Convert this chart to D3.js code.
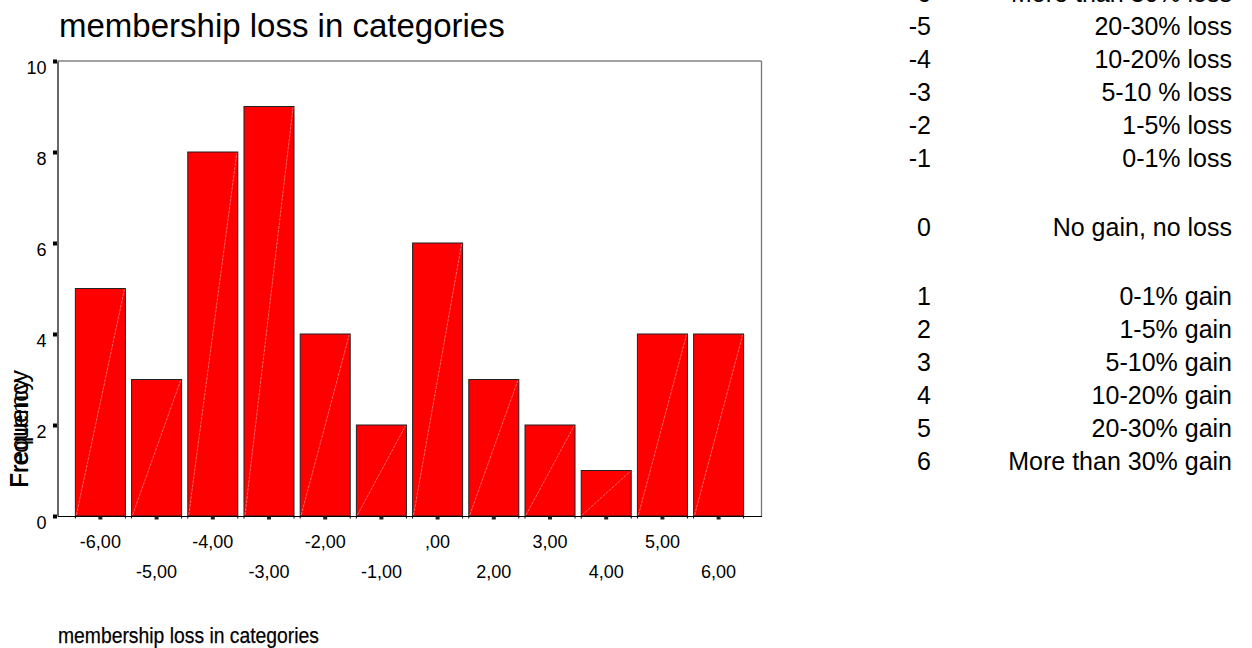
<!DOCTYPE html>
<html>
<head>
<meta charset="utf-8">
<script src="https://cdn.jsdelivr.net/npm/d3@7"></script>
<style>
  html, body { margin: 0; padding: 0; background: #fff; }
  svg { display: block; font-family: "Liberation Sans", Arial, sans-serif; }
</style>
</head>
<body>
<svg id="chart" width="1252" height="648"></svg>
<script>
// ---- data ----
const categories = [-6, -5, -4, -3, -2, -1, 0, 2, 3, 4, 5, 6];
const frequencies = [5, 3, 8, 9, 4, 2, 6, 3, 2, 1, 4, 4];
const xTickLabels = ["-6,00", "-5,00", "-4,00", "-3,00", "-2,00", "-1,00", ",00", "2,00", "3,00", "4,00", "5,00", "6,00"];
const yTicks = [0, 2, 4, 6, 8, 10];
const legendCodes = ["-6", "-5", "-4", "-3", "-2", "-1", "", "0", "", "1", "2", "3", "4", "5", "6"];
const legendLabels = ["More than 30% loss", "20-30% loss", "10-20% loss", "5-10 % loss", "1-5% loss", "0-1% loss", "",
  "No gain, no loss", "", "0-1% gain", "1-5% gain", "5-10% gain", "10-20% gain", "20-30% gain", "More than 30% gain"];
const titleText = "membership loss in categories";
const xAxisTitle = "membership loss in categories";
const yAxisTitle = "Frequency";

// ---- layout ----
const svg = d3.select("#chart");
const plot = { left: 57.5, right: 761.5, top: 61, bottom: 516 };

const x = d3.scaleBand()
  .domain(categories)
  .range([plot.left, plot.right])
  .paddingInner(0.11)
  .paddingOuter(0.318);

const y = d3.scaleLinear()
  .domain([0, 10])
  .range([plot.bottom, plot.top]);

// title
svg.append("text")
  .attr("x", 59).attr("y", 37)
  .attr("font-size", 33)
  .attr("fill", "#000")
  .text(titleText);

// frame: top and right border
svg.append("line")
  .attr("x1", plot.left).attr("x2", plot.right)
  .attr("y1", plot.top).attr("y2", plot.top)
  .attr("stroke", "#444").attr("stroke-width", 1);
svg.append("line")
  .attr("x1", plot.right).attr("x2", plot.right)
  .attr("y1", plot.top).attr("y2", plot.bottom)
  .attr("stroke", "#777").attr("stroke-width", 1.3);

// bars
const bars = svg.append("g").attr("class", "bars");
categories.forEach((c, i) => {
  const bx = x(c), bw = x.bandwidth();
  const by = y(frequencies[i]), bh = y(0) - y(frequencies[i]);
  bars.append("rect")
    .attr("x", bx).attr("y", by)
    .attr("width", bw).attr("height", bh)
    .attr("fill", "#ff0000")
    .attr("stroke", "#222").attr("stroke-width", 1);
  bars.append("line")
    .attr("x1", bx + 1).attr("y1", y(0) - 1)
    .attr("x2", bx + bw - 1).attr("y2", by + 1)
    .attr("stroke", "#ff9090").attr("stroke-width", 0.7)
    .attr("stroke-dasharray", "3,1");
});

// y axis
const yAxis = d3.axisLeft(y).tickValues(yTicks).tickSize(0).tickPadding(11).tickFormat(d3.format("d"));
const gy = svg.append("g").attr("transform", `translate(${plot.left},0)`).call(yAxis);
gy.select(".domain").attr("stroke", "#000").attr("stroke-width", 1.2);
gy.selectAll(".tick text")
  .attr("font-size", 18)
  .attr("font-family", "Liberation Sans, Arial, sans-serif")
  .attr("fill", "#000")
  .attr("dy", "0.72em");
gy.selectAll(".tick").append("rect")
  .attr("x", -4.5).attr("y", -2).attr("width", 4).attr("height", 4)
  .attr("fill", "#000");

// x axis
const xAxis = d3.axisBottom(x).tickSize(0).tickPadding(0).tickFormat((d, i) => xTickLabels[i]);
const gx = svg.append("g").attr("transform", `translate(0,${plot.bottom})`).call(xAxis);
gx.select(".domain").attr("stroke", "#000").attr("stroke-width", 1.2);
gx.selectAll(".tick text")
  .attr("font-size", 18)
  .attr("font-family", "Liberation Sans, Arial, sans-serif")
  .attr("fill", "#000")
  .attr("dy", null)
  .attr("y", (d, i) => (i % 2 === 0 ? 32 : 62));
gx.selectAll(".tick").append("rect")
  .attr("x", -2).attr("y", 0.5).attr("width", 4).attr("height", 3)
  .attr("fill", "#222");
// small edge ticks at bar boundaries
categories.forEach(c => {
  [x(c), x(c) + x.bandwidth()].forEach(ex => {
    svg.append("line")
      .attr("x1", ex).attr("x2", ex)
      .attr("y1", plot.bottom).attr("y2", plot.bottom + 2.5)
      .attr("stroke", "#000").attr("stroke-width", 1);
  });
});

// y axis title (overprinted, as in the original)
const yMid = 429;
svg.append("text")
  .attr("transform", `translate(28,${yMid}) rotate(-90)`)
  .attr("text-anchor", "middle")
  .attr("font-size", 25)
  .attr("fill", "#000")
  .text(yAxisTitle);
svg.append("text")
  .attr("transform", `translate(28,${yMid + 4}) rotate(-90)`)
  .attr("text-anchor", "middle")
  .attr("font-size", 24)
  .attr("textLength", 108)
  .attr("lengthAdjust", "spacingAndGlyphs")
  .attr("fill", "#000")
  .text(yAxisTitle);

// x axis title
svg.append("text")
  .attr("x", 58).attr("y", 643)
  .attr("font-size", 22)
  .attr("textLength", 261)
  .attr("lengthAdjust", "spacingAndGlyphs")
  .attr("fill", "#000")
  .attr("stroke", "#000").attr("stroke-width", 0.25)
  .text(xAxisTitle);

// legend / value labels
const lg = svg.append("g").attr("font-size", 25).attr("fill", "#000");
let ly = 2;
legendCodes.forEach((code, i) => {
  if (code !== "") {
    lg.append("text").attr("x", 931).attr("y", ly).attr("text-anchor", "end").text(code);
    lg.append("text").attr("x", 1232).attr("y", ly).attr("text-anchor", "end").text(legendLabels[i]);
    ly += 33;
  } else {
    ly += 36;
  }
});
</script>
</body>
</html>
